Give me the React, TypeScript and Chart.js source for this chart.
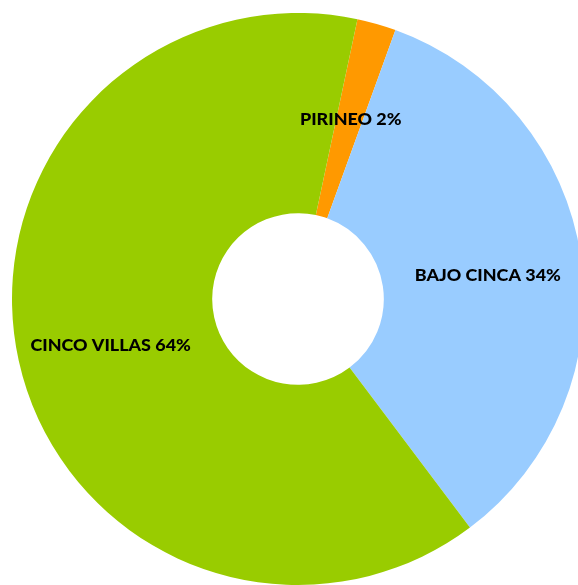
import React, { useEffect, useRef } from "react";
import { Chart, registerables } from "chart.js";

Chart.register(...registerables);

const categories = ["PIRINEO", "BAJO CINCA", "CINCO VILLAS"];
const values = [2.2, 34.2, 63.6];
const percentLabels = ["2%", "34%", "64%"];
const colors = ["#FF9900", "#99CCFF", "#99CC00"];

const labelPlugin = {
  id: "sliceLabels",
  afterDatasetsDraw(chart: any) {
    const ctx = chart.ctx;
    const meta = chart.getDatasetMeta(0);
    ctx.save();
    ctx.font = "900 16px Lato, sans-serif";
    ctx.fillStyle = "#000000";
    ctx.textAlign = "center";
    ctx.textBaseline = "middle";
    meta.data.forEach((arc: any, i: number) => {
      const props = arc.getProps(["startAngle", "endAngle", "innerRadius", "outerRadius", "x", "y"], true);
      const mid = (props.startAngle + props.endAngle) / 2;
      const r = (props.innerRadius + props.outerRadius) / 2 + 6;
      const x = props.x + Math.cos(mid) * r;
      const y = props.y + Math.sin(mid) * r + 5;
      const text = `${categories[i]} ${percentLabels[i]}`;
      ctx.save();
      ctx.translate(x, y);
      ctx.scale(1.12, 1);
      ctx.fillText(text, 0, 0);
      ctx.restore();
    });
    ctx.restore();
  },
};

export default function App() {
  const ref = useRef<HTMLCanvasElement>(null);
  useEffect(() => {
    if (!ref.current) return;
    const chart = new Chart(ref.current, {
      type: "doughnut",
      data: {
        labels: categories,
        datasets: [
          {
            data: values,
            backgroundColor: colors,
            borderWidth: 0,
          },
        ],
      },
      options: {
        animation: false,
        responsive: false,
        rotation: 12,
        cutout: "30%",
        layout: { padding: 0 },
        plugins: {
          legend: { display: false },
          tooltip: { enabled: false },
        },
      },
      plugins: [labelPlugin],
    });
    return () => chart.destroy();
  }, []);
  return (
    <div
      style={{
        position: "fixed",
        left: 0,
        top: 0,
        width: 578,
        height: 585,
        overflow: "hidden",
        background: "#ffffff",
      }}
    >
      <canvas
        ref={ref}
        width={572}
        height={572}
        style={{ position: "absolute", left: 12, top: 13, width: 572, height: 572 }}
      />
    </div>
  );
}
